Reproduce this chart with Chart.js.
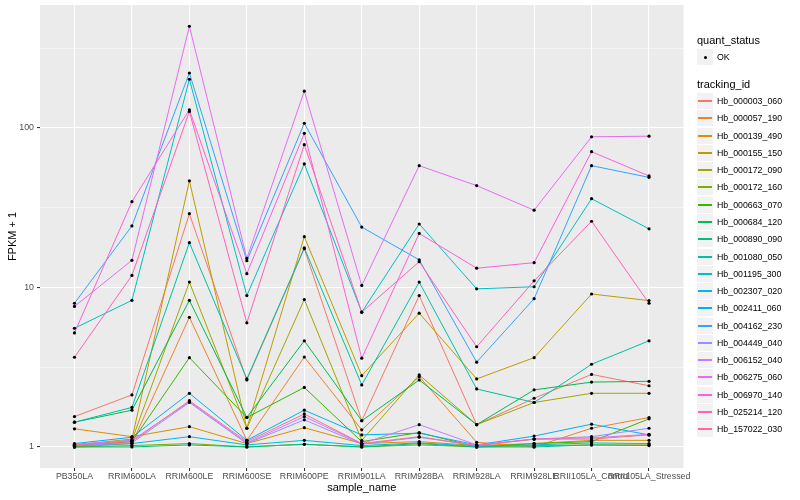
<!DOCTYPE html>
<html>
<head>
<meta charset="utf-8">
<script src="https://cdn.jsdelivr.net/npm/chart.js@4.4.0/dist/chart.umd.min.js"></script>
<style>
  html, body { margin: 0; padding: 0; background: #fff; }
  #wrap { position: relative; width: 800px; height: 500px; font-family: "Liberation Sans", Arial, Helvetica, sans-serif; }
  #c { position: absolute; left: 0; top: 0; }
  .lg-title { position: absolute; font-size: 11px; color: #000; white-space: nowrap; line-height: 1; }
  .lg-key { position: absolute; width: 16px; height: 16px; background: #F2F2F2; }
  .lg-line { position: absolute; left: 1px; right: 1px; top: 7px; height: 2px; }
  .lg-dot { position: absolute; left: 6.5px; top: 6.5px; width: 3px; height: 3px; border-radius: 50%; background: #000; }
  .lg-txt { position: absolute; font-size: 8.8px; color: #000; white-space: nowrap; line-height: 1; }
</style>
</head>
<body>
<div id="wrap">
  <canvas id="c" width="800" height="500"></canvas>
  <div id="legend"></div>
</div>
<script>
// ---- categories ----
const samples = ["PB350LA", "RRIM600LA", "RRIM600LE", "RRIM600SE", "RRIM600PE", "RRIM901LA",
                 "RRIM928BA", "RRIM928LA", "RRIM928LE", "RRII105LA_Control", "RRII105LA_Stressed"];
const trackingIds = ["Hb_000003_060", "Hb_000057_190", "Hb_000139_490", "Hb_000155_150", "Hb_000172_090",
  "Hb_000172_160", "Hb_000663_070", "Hb_000684_120", "Hb_000890_090", "Hb_001080_050", "Hb_001195_300",
  "Hb_002307_020", "Hb_002411_060", "Hb_004162_230", "Hb_004449_040", "Hb_006152_040", "Hb_006275_060",
  "Hb_006970_140", "Hb_025214_120", "Hb_157022_030"];
const seriesColors = ["#F8766D", "#EA8331", "#D89000", "#C09B00", "#A3A500", "#7CAE00", "#39B600", "#00BB4E",
  "#00BF7D", "#00C1A3", "#00BFC4", "#00BAE0", "#00B0F6", "#35A2FF", "#9590FF", "#C77CFF", "#E76BF3",
  "#FA62DB", "#FF62BC", "#FF6C91"];
// ---- y tick values ----
const yMajorTicks = [1, 10, 100];
const yMinorTicks = [3.1623, 31.623, 316.23];

// ---- series values (FPKM + 1) ----
const hb_000003_060 = [1.55, 2.12, 29, 2.63, 17.5, 1.46, 8.9, 1.38, 2.02, 2.85, 2.42];
const hb_000057_190 = [1.0, 1.05, 6.5, 1.1, 3.66, 1.28, 2.76, 1.07, 1.0, 1.31, 1.53];
const hb_000139_490 = [1.3, 1.16, 1.34, 1.05, 1.32, 1.05, 1.08, 1.02, 1.05, 1.1, 1.1];
const hb_000155_150 = [1.03, 1.12, 46.6, 1.31, 20.8, 2.8, 6.9, 2.67, 3.63, 9.1, 8.27];
const hb_000172_090 = [1.02, 1.1, 10.8, 1.31, 8.4, 1.1, 2.83, 1.38, 1.9, 2.17, 2.17];
const hb_000172_160 = [1.0, 1.02, 1.05, 1.0, 1.04, 1.0, 1.03, 1.0, 1.02, 1.03, 1.03];
const hb_000663_070 = [1.01, 1.08, 3.63, 1.53, 2.36, 1.08, 1.23, 1.0, 1.05, 1.08, 1.5];
const hb_000684_120 = [1.43, 1.7, 8.3, 1.53, 4.63, 1.46, 2.63, 1.38, 2.28, 2.55, 2.58];
const hb_000890_090 = [1.0, 1.0, 1.03, 1.0, 1.04, 1.0, 1.05, 1.0, 1.0, 1.03, 1.02];
const hb_001080_050 = [1.43, 1.77, 19.1, 2.67, 17.7, 2.45, 10.8, 2.31, 1.9, 3.3, 4.63];
const hb_001195_300 = [5.55, 8.3, 202, 8.9, 59.5, 7.0, 25, 9.8, 10.1, 36, 23.3];
const hb_002307_020 = [1.02, 1.05, 1.16, 1.03, 1.1, 1.02, 1.06, 1.01, 1.03, 1.06, 1.05];
const hb_002411_060 = [1.05, 1.15, 2.17, 1.1, 1.7, 1.19, 1.22, 1.03, 1.17, 1.39, 1.19];
const hb_004162_230 = [7.96, 24.3, 221, 14.7, 107, 23.9, 14.9, 3.4, 8.5, 58, 49];
const hb_004449_040 = [1.02, 1.06, 1.9, 1.05, 1.48, 1.04, 1.15, 1.02, 1.12, 1.16, 1.31];
const hb_006152_040 = [1.04, 1.1, 1.92, 1.06, 1.55, 1.05, 1.38, 1.03, 1.12, 1.14, 1.2];
const hb_006275_060 = [7.6, 14.8, 434, 15.2, 170, 10.3, 58, 43.5, 30.5, 88, 88.8];
const hb_006970_140 = [5.19, 34.5, 130, 12.2, 92.5, 3.6, 21.8, 13.2, 14.3, 71, 50];
const hb_025214_120 = [3.65, 11.9, 127, 6.0, 78.6, 7.0, 14.5, 4.25, 11.0, 26, 7.96];
const hb_157022_030 = [1.03, 1.08, 1.95, 1.08, 1.61, 1.05, 1.16, 1.02, 1.12, 1.12, 1.19];

const seriesValues = [hb_000003_060, hb_000057_190, hb_000139_490, hb_000155_150, hb_000172_090,
  hb_000172_160, hb_000663_070, hb_000684_120, hb_000890_090, hb_001080_050, hb_001195_300,
  hb_002307_020, hb_002411_060, hb_004162_230, hb_004449_040, hb_006152_040, hb_006275_060,
  hb_006970_140, hb_025214_120, hb_157022_030];

const N = seriesValues.length;
const datasets = seriesValues.map((vals, i) => ({
  label: trackingIds[i],
  data: vals.map((v, j) => ({ x: j, y: v })),
  borderColor: seriesColors[i],
  backgroundColor: seriesColors[i],
  borderWidth: 1,
  pointRadius: 0,
  tension: 0,
  fill: false,
  order: N - i
}));
const allPoints = [];
seriesValues.forEach(vals => vals.forEach((v, j) => allPoints.push({ x: j, y: v })));
datasets.push({
  label: 'OK',
  data: allPoints,
  showLine: false,
  pointRadius: 1.6,
  pointBackgroundColor: '#000',
  pointBorderWidth: 0,
  borderColor: '#000',
  order: -1
});

const panelBg = {
  id: 'panelBg',
  beforeDraw(chart) {
    const { ctx, chartArea: a } = chart;
    ctx.save();
    ctx.fillStyle = '#EBEBEB';
    ctx.fillRect(a.left, a.top, a.right - a.left, a.bottom - a.top);
    ctx.restore();
  }
};

const FONT = "'Liberation Sans', Arial, Helvetica, sans-serif";
const isMajor = (ctx) => ctx.tick && yMajorTicks.includes(ctx.tick.value);
const chart = new Chart(document.getElementById('c'), {
  type: 'line',
  data: { datasets },
  plugins: [panelBg],
  options: {
    responsive: false,
    animation: false,
    devicePixelRatio: 1,
    layout: { padding: { top: 5, right: 116.5, left: 0, bottom: 0 } },
    plugins: { legend: { display: false }, tooltip: { enabled: false } },
    scales: {
      x: {
        type: 'linear',
        bounds: 'data',
        min: -0.6,
        max: samples.length - 1 + 0.6,
        afterBuildTicks(scale) { scale.ticks = samples.map((_, i) => ({ value: i })); },
        afterFit(scale) { scale.height = 32; scale.paddingLeft = 0; scale.paddingRight = 0; },
        ticks: {
          autoSkip: false, maxRotation: 0, minRotation: 0, padding: 0.5,
          color: '#4D4D4D', font: { family: FONT, size: 8.8 },
          callback: (v) => samples[v]
        },
        title: { display: true, text: 'sample_name', color: '#000', font: { family: FONT, size: 11 }, padding: { top: 0, bottom: 5 } },
        grid: { color: '#FFFFFF', lineWidth: 1.07, tickColor: '#333333', tickLength: 3, drawTicks: true },
        border: { display: false }
      },
      y: {
        type: 'logarithmic',
        bounds: 'data',
        min: 0.738,
        max: 590,
        afterBuildTicks(scale) {
          scale.ticks = [...yMajorTicks, ...yMinorTicks].sort((a, b) => a - b).map(v => ({ value: v }));
        },
        afterFit(scale) { scale.width = 40; scale.paddingTop = 0; scale.paddingBottom = 0; },
        ticks: {
          autoSkip: false, padding: 3,
          color: '#4D4D4D', font: { family: FONT, size: 8.8 },
          callback: (v) => yMajorTicks.includes(v) ? String(v) : ''
        },
        title: { display: true, text: 'FPKM + 1', color: '#000', font: { family: FONT, size: 11 }, padding: { top: 6.4, bottom: 0 } },
        grid: {
          color: '#FFFFFF',
          lineWidth: (ctx) => isMajor(ctx) ? 1.07 : 0.53,
          tickColor: (ctx) => isMajor(ctx) ? '#333333' : 'rgba(0,0,0,0)',
          tickLength: 3, drawTicks: true
        },
        border: { display: false }
      }
    }
  }
});

// ---- legend (HTML) ----
const lg = document.getElementById('legend');
function add(html) { lg.insertAdjacentHTML('beforeend', html); }
add('<div class="lg-title" style="left:697px; top:35px;">quant_status</div>');
add('<div class="lg-key" style="left:697px; top:49px;"><div class="lg-dot"></div></div>');
add('<div class="lg-txt" style="left:717px; top:52.5px;">OK</div>');
add('<div class="lg-title" style="left:697px; top:78.5px;">tracking_id</div>');
trackingIds.forEach((id, i) => {
  const cy = Math.round(101 + i * 17.28);
  add(`<div class="lg-key" style="left:697px; top:${cy - 8}px;"><div class="lg-line" style="background:${seriesColors[i]}"></div></div>`);
  add(`<div class="lg-txt" style="left:717px; top:${cy - 4}px;">${id}</div>`);
});
</script>
</body>
</html>
